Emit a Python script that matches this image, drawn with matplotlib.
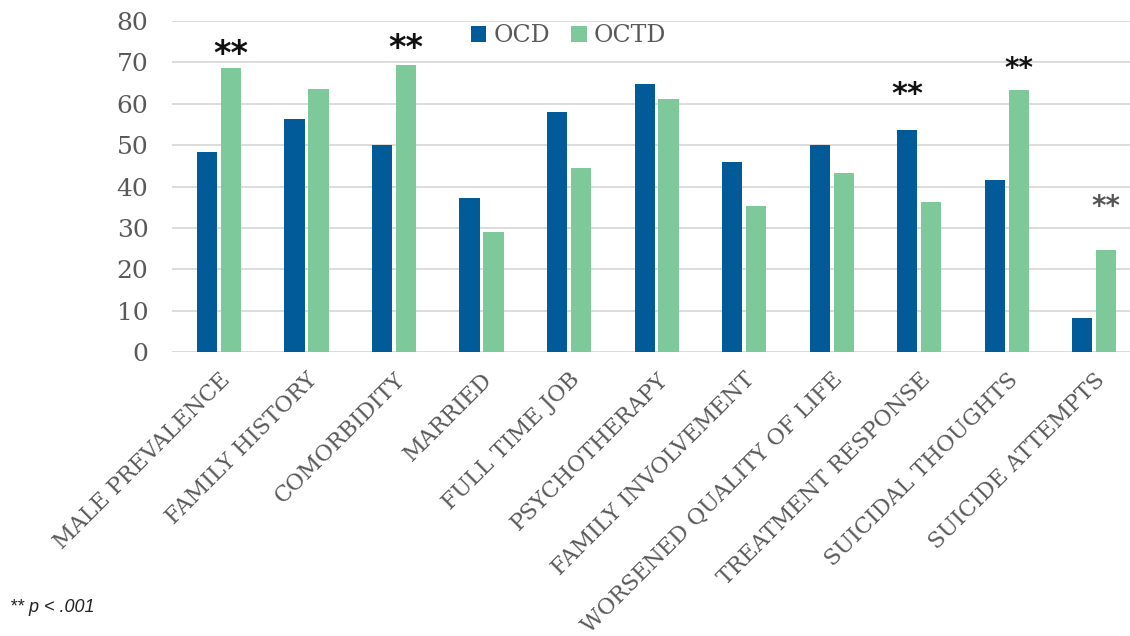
import matplotlib
matplotlib.use("Agg")
import matplotlib.pyplot as plt
import numpy as np

categories = ["MALE PREVALENCE", "FAMILY HISTORY", "COMORBIDITY", "MARRIED",
              "FULL TIME JOB", "PSYCHOTHERAPY", "FAMILY INVOLVEMENT",
              "WORSENED QUALITY OF LIFE", "TREATMENT RESPONSE",
              "SUICIDAL THOUGHTS", "SUICIDE ATTEMPTS"]
ocd = [48.3, 56.4, 50.0, 37.2, 57.9, 64.8, 46.0, 50.0, 53.7, 41.5, 8.1]
octd = [68.6, 63.6, 69.4, 29.1, 44.4, 61.2, 35.4, 43.3, 36.2, 63.4, 24.6]
series_names = ["OCD", "OCTD"]
y_ticks = [0, 10, 20, 30, 40, 50, 60, 70, 80]
# significance marks: (category index, series index, offset above bar, size, colour)
sig_marks = [(0, 1, 3.3, 24, "#111111"), (2, 1, 4.0, 24, "#111111"),
             (8, 0, 8.6, 22, "#111111"), (9, 1, 5.0, 20, "#111111"),
             (10, 1, 10.4, 20, "#555555")]
footnote = "** p < .001"

blue = "#005B98"
green = "#7DC99A"
grey_text = "#595959"

fig = plt.figure(figsize=(11.3, 6.36), dpi=100)
ax = fig.add_axes([172/1130, 1-352/636, (1130-172)/1130, (352-21)/636])

x = np.arange(len(categories))
w = 0.23
off = 0.137
ax.bar(x - off, ocd, width=w, color=blue, label=series_names[0], zorder=3)
ax.bar(x + off, octd, width=w, color=green, label=series_names[1], zorder=3)

ax.set_ylim(0, 80)
ax.set_xlim(-0.537, 10.41)
ax.set_yticks(y_ticks)
ax.set_yticklabels([str(t) for t in y_ticks], family="DejaVu Serif",
                   fontsize=18, color=grey_text)
ax.yaxis.grid(True, color="#D9D9D9", linewidth=1.3, zorder=0)
ax.tick_params(axis="y", length=0, pad=17)
ax.tick_params(axis="x", length=0, pad=12)
for s in ax.spines.values():
    s.set_visible(False)

ax.set_xticks(x)
ax.set_xticklabels(categories, rotation=45, ha="right", rotation_mode="anchor",
                   family="DejaVu Serif", fontsize=16, color=grey_text)

vals = [ocd, octd]
for ci, si, d, fs, col in sig_marks:
    xp = x[ci] + (off if si == 1 else -off)
    ax.text(xp, vals[si][ci] + d, "**", ha="center", va="center",
            fontsize=fs, color=col, fontweight="bold", family="DejaVu Sans")

leg = ax.legend(loc="upper center", bbox_to_anchor=(0.414, 1.055), ncol=2,
                frameon=False, prop={"family": "DejaVu Serif", "size": 17},
                handlelength=0.65, handleheight=0.65, handletextpad=0.3,
                columnspacing=0.9)
for t in leg.get_texts():
    t.set_color(grey_text)

fig.text(10/1130, 1-608/636, footnote, fontsize=13, style="italic",
         family="Liberation Sans", color="#222222", va="center")

fig.savefig("out.png", dpi=100)
